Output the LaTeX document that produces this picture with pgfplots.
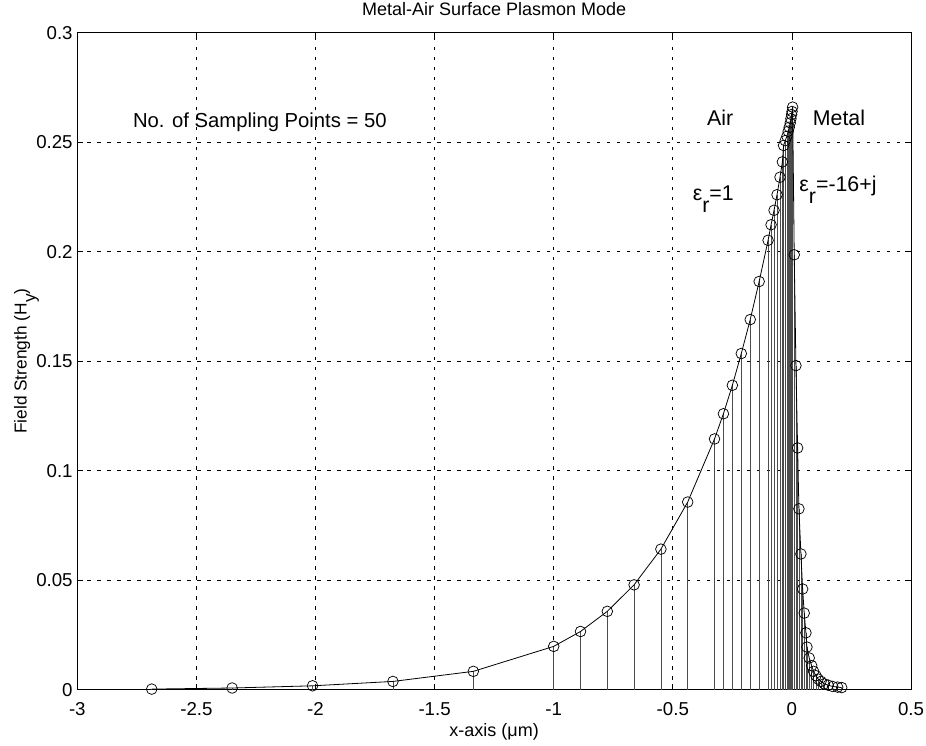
\documentclass[border=0pt]{standalone}
\usepackage{fontspec}
\setmainfont{Liberation Sans}
\usepackage{pgfplots}
\usepackage{pgfplotstable}
\pgfplotsset{compat=1.18}

% sampled field, air side (x<0) then metal side (x>0)
\pgfplotstableread{
x y
-2.6875 0.0003
-2.35 0.0008
-2.0125 0.0018
-1.675 0.0038
-1.3375 0.0084
-1.0 0.0198
-0.8875 0.0266
-0.775 0.0358
-0.6625 0.0479
-0.55 0.0642
-0.4375 0.0857
-0.325 0.1145
-0.2875 0.1260
-0.25 0.1390
-0.2125 0.1535
-0.175 0.1690
-0.1375 0.1864
-0.1 0.2052
-0.0875 0.2123
-0.075 0.2189
-0.0625 0.2260
-0.05 0.2340
-0.04 0.2410
-0.035 0.2485
-0.028 0.2507
-0.021 0.2527
-0.0155 0.2550
-0.0113 0.2568
-0.0071 0.2588
-0.0042 0.2607
-0.0013 0.2626
0.0005 0.2640
0.003 0.2660
0.0097 0.1986
0.0168 0.1480
0.0239 0.1104
0.0294 0.0826
0.0378 0.0620
0.045 0.0460
0.0516 0.0350
0.0588 0.0260
0.063 0.0195
0.0726 0.0145
0.083 0.0110
0.091 0.0084
0.101 0.0064
0.110 0.0049
0.122 0.0038
0.136 0.0027
0.152 0.0021
0.171 0.0015
0.192 0.0012
0.209 0.0010
}\fielddata

\begin{document}
\begin{tikzpicture}
\begin{axis}[
    at={(0,0)}, anchor=south west,
    scale only axis,
    width=625.5pt,
    height=493pt,
    xmin=-3, xmax=0.5,
    ymin=0, ymax=0.3,
    xtick={-3,-2.5,-2,-1.5,-1,-0.5,0,0.5},
    xticklabels={-3,-2.5,-2,-1.5,-1,-0.5,0,0.5},
    ytick={0,0.05,0.1,0.15,0.2,0.25,0.3},
    yticklabels={0,0.05,0.1,0.15,0.2,0.25,0.3},
    tick align=inside,
    major tick length=4.5pt,
    tick style={black, line width=0.5pt},
    axis line style={line width=0.7pt},
    grid=major,
    grid style={black, line width=0.5pt, dash pattern=on 2.5pt off 5pt},
    ticklabel style={font=\fontsize{14}{17}\selectfont},
    xticklabel style={anchor=base, yshift=-19pt},
    title={Metal-Air Surface Plasmon Mode},
    title style={font=\fontsize{13.5}{16}\selectfont, at={(axis description cs:0.5,1)}, anchor=base, yshift=7pt},
    xlabel={x-axis (μm)},
    xlabel style={font=\fontsize{13.5}{16}\selectfont, at={(axis description cs:0.5,0)}, anchor=base, yshift=-35pt},
    ylabel={Field Strength (H\raisebox{-0.5em}{y})},
    ylabel style={font=\fontsize{13}{16}\selectfont, at={(axis description cs:-0.061,0.5)}, anchor=center},
    clip=false,
]

% stems
\addplot[ycomb, black!70, line width=0.5pt, forget plot] table[x=x, y=y] {\fielddata};

% line with circles
\addplot[black, line width=0.6pt, mark=o, mark size=4pt, mark options={solid, line width=0.55pt}] table[x=x, y=y] {\fielddata};

\node[anchor=base west, inner sep=0pt, font=\fontsize{15.2}{18}\selectfont] at (axis cs:-2.767,0.2566) {No. of Sampling Points = 50};
\node[anchor=base west, inner sep=0pt, font=\fontsize{16}{19}\selectfont] at (axis cs:-0.357,0.2575) {Air};
\node[anchor=base west, inner sep=0pt, font=\fontsize{16}{19}\selectfont] at (axis cs:0.0869,0.2575) {Metal};
\node[anchor=base west, inner sep=0pt, font=\fontsize{16}{19}\selectfont] at (axis cs:-0.417,0.2234) {ε\raisebox{-0.55em}{r}=1};
\node[anchor=base west, inner sep=0pt, font=\fontsize{16}{19}\selectfont] at (axis cs:0.0306,0.2275) {ε\raisebox{-0.55em}{r}=-16+j};
\end{axis}
\pgfresetboundingbox
\path (-58pt,-42pt) rectangle (636.75pt,517.5pt);
\end{tikzpicture}
\end{document}
